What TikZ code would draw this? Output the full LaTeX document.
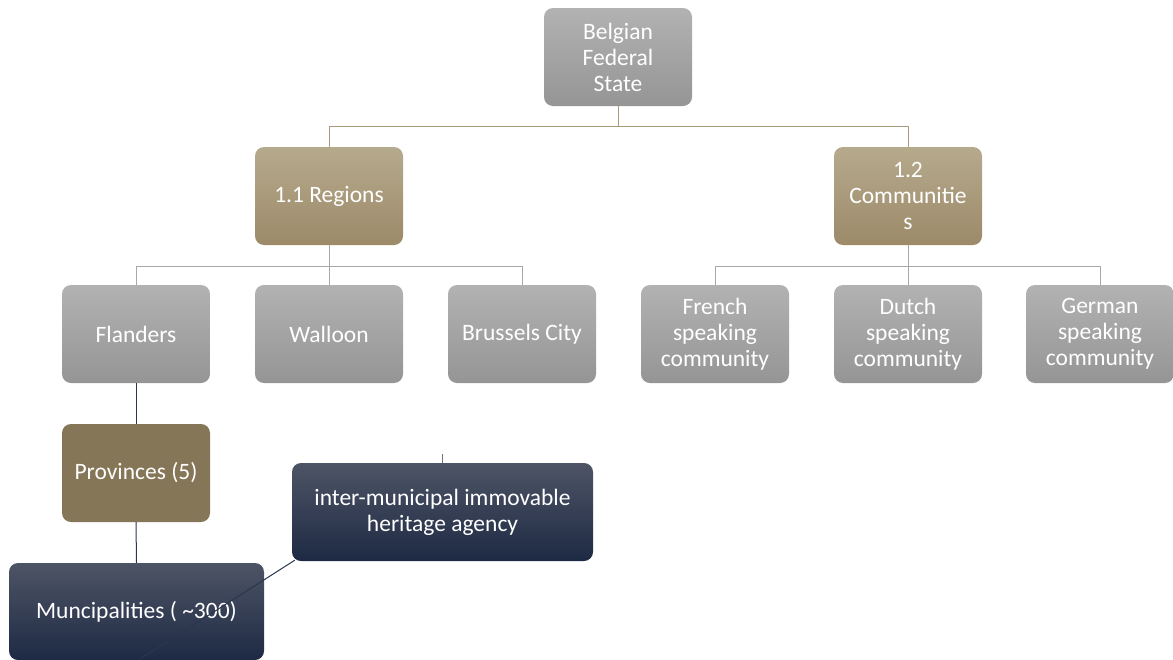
\documentclass[tikz,border=0pt]{standalone}
\usepackage{fontspec}
\setmainfont{Carlito}
\definecolor{grayTop}{HTML}{B2B2B2}
\definecolor{grayBot}{HTML}{959595}
\definecolor{tanTop}{HTML}{B6AA8D}
\definecolor{tanBot}{HTML}{9C8A69}
\definecolor{olive}{HTML}{857657}
\definecolor{navyTop}{HTML}{4D5465}
\definecolor{navyBot}{HTML}{1E2A44}
\definecolor{tanLine}{HTML}{A89A7A}
\definecolor{grayLine}{HTML}{A8A8A8}
\definecolor{navyLine}{HTML}{2A3650}
\tikzset{
  box/.style={rectangle, rounded corners=9pt, inner sep=0pt, align=center,
    text=white, font=\fontsize{23.5}{26}\selectfont,
    minimum width=148pt, minimum height=98pt},
  graybox/.style={box, top color=grayTop, bottom color=grayBot},
  tanbox/.style={box, top color=tanTop, bottom color=tanBot},
  olivebox/.style={box, fill=olive},
  navybox/.style={box, top color=navyTop, bottom color=navyBot},
  tanlink/.style={draw=tanLine, line width=1pt},
  graylink/.style={draw=grayLine, line width=1pt},
  navylink/.style={draw=navyLine, line width=1pt},
}
\begin{document}
\begin{tikzpicture}[x=1pt, y=-1pt]
\useasboundingbox (0,0) rectangle (1173,659);

% level 0
\node[graybox] (state) at (618,57) {Belgian\\Federal\\State};
% level 1
\node[tanbox] (reg) at (329,196) {1.1 Regions};
\node[tanbox] (com) at (908,196) {1.2\\Communitie\\s};
% level 2
\node[graybox] (fla) at (136,334) {Flanders};
\node[graybox] (wal) at (329,334) {Walloon};
\node[graybox] (bru) at (522,334) {Brussels City};
\node[graybox] (fre) at (715,334) {French\\speaking\\community};
\node[graybox] (dut) at (908,334) {Dutch\\speaking\\community};
\node[graybox] (ger) at (1100,334) {German\\speaking\\community};
% lower levels
\node[olivebox] (pro) at (136,473) {Provinces (5)};
\node[navybox, minimum width=301pt] (agency) at (442.5,512)
  {inter-municipal immovable\\heritage agency};

% connectors
\draw[tanlink] (state.south) -- ++(0,20) -| (reg.north);
\draw[tanlink] (state.south) ++(0,20) -| (com.north);
\draw[graylink] (reg.south) -- ++(0,21) -| (fla.north);
\draw[graylink] (reg.south) -- (wal.north);
\draw[graylink] (reg.south) ++(0,21) -| (bru.north);
\draw[graylink] (com.south) -- ++(0,21) -| (fre.north);
\draw[graylink] (com.south) -- (dut.north);
\draw[graylink] (com.south) ++(0,21) -| (ger.north);
\draw[navylink] (fla.south) -- (pro.north);

\node[navybox, minimum width=255pt, minimum height=97pt] (mun) at (136.5,611.5)
  {Muncipalities ( \textasciitilde300)};
\draw[navylink] (pro.south) -- (mun.north);

\coordinate (stub) at (442.5,454);
\draw[draw=navyLine!70, line width=0.8pt] (stub) -- (agency.north);
\coordinate (tail) at (140,659);
\draw[navylink] (agency.south west) ++(3,-1) coordinate (aw) (tail) -- (aw);
\end{tikzpicture}
\end{document}
